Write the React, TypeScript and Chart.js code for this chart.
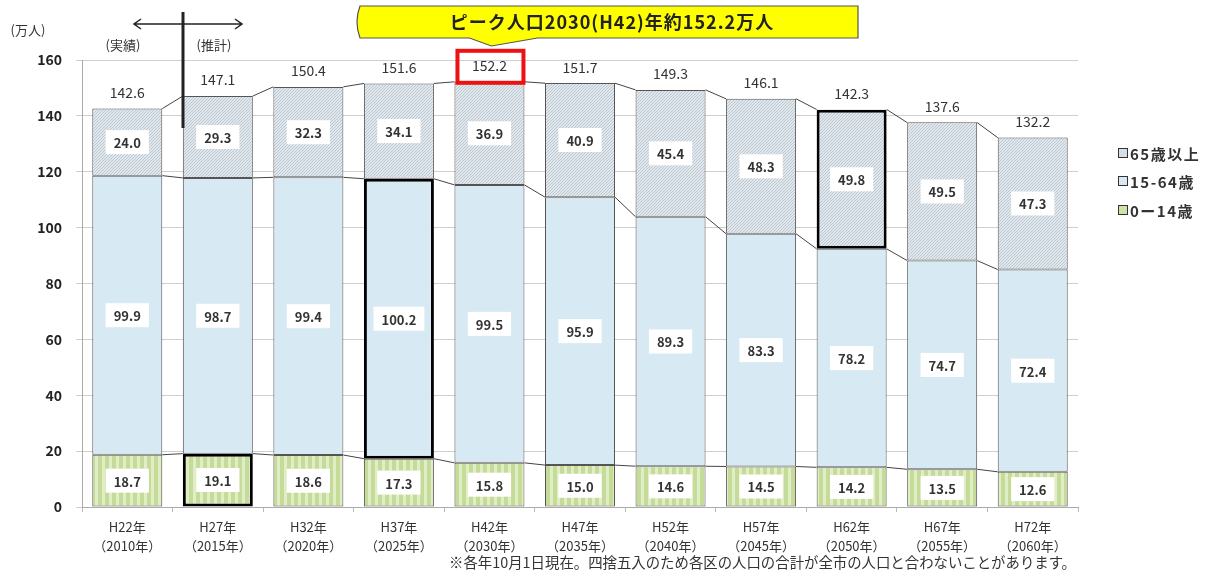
import React, { useEffect, useRef } from "react";
import { Chart, registerables } from "chart.js";

Chart.register(...registerables);

const categories: string[][] = [
  ["H22年", "（2010年）"],
  ["H27年", "（2015年）"],
  ["H32年", "（2020年）"],
  ["H37年", "（2025年）"],
  ["H42年", "（2030年）"],
  ["H47年", "（2035年）"],
  ["H52年", "（2040年）"],
  ["H57年", "（2045年）"],
  ["H62年", "（2050年）"],
  ["H67年", "（2055年）"],
  ["H72年", "（2060年）"],
];
const age0to14 = [18.7, 19.1, 18.6, 17.3, 15.8, 15.0, 14.6, 14.5, 14.2, 13.5, 12.6];
const age15to64 = [99.9, 98.7, 99.4, 100.2, 99.5, 95.9, 89.3, 83.3, 78.2, 74.7, 72.4];
const age65plus = [24.0, 29.3, 32.3, 34.1, 36.9, 40.9, 45.4, 48.3, 49.8, 49.5, 47.3];
const totals = [142.6, 147.1, 150.4, 151.6, 152.2, 151.7, 149.3, 146.1, 142.3, 137.6, 132.2];
const seriesNames = ["0ー14歳", "15-64歳", "65歳以上"];
const highlighted = [1, 3, 8]; // bold-border segment index per series (0-14, 15-64, 65+)
const peakIndex = 4;
const calloutText = "ピーク人口2030(H42)年約152.2万人";
const unitLabel = "(万人)";
const actualLabel = "(実績)";
const forecastLabel = "(推計)";
const footnote = "※各年10月1日現在。四捨五入のため各区の人口の合計が全市の人口と合わないことがあります。";

const FONT = "'Noto Sans CJK JP', 'Noto Sans', sans-serif";

function makeHatch(): CanvasPattern | string {
  const c = document.createElement("canvas");
  c.width = 3;
  c.height = 3;
  const g = c.getContext("2d");
  if (!g) return "#d5dfe6";
  g.fillStyle = "#e0e8ed";
  g.fillRect(0, 0, 3, 3);
  g.fillStyle = "#bcc7cf";
  g.fillRect(2, 0, 1, 1);
  g.fillRect(1, 1, 1, 1);
  g.fillRect(0, 2, 1, 1);
  const p = g.createPattern(c, "repeat");
  return p || "#d5dfe6";
}

function makeStripes(): CanvasPattern | string {
  const c = document.createElement("canvas");
  c.width = 7;
  c.height = 7;
  const g = c.getContext("2d");
  if (!g) return "#cfe2a8";
  g.fillStyle = "#e0edc6";
  g.fillRect(0, 0, 7, 7);
  g.fillStyle = "#c5db98";
  g.fillRect(0, 0, 4, 7);
  const p = g.createPattern(c, "repeat");
  return p || "#cfe2a8";
}

const overlayPlugin = {
  id: "overlay",
  afterDatasetsDraw(chart: any) {
    const ctx: any = chart.ctx;
    const y = chart.scales.y;
    const metas = [0, 1, 2].map((i) => chart.getDatasetMeta(i));
    const n = totals.length;
    ctx.save();
    // connecting lines
    const levels = [
      age0to14,
      age0to14.map((v, i) => v + age15to64[i]),
      totals,
    ];
    ctx.strokeStyle = "#444";
    ctx.lineWidth = 1;
    levels.forEach((lv, li) => {
      const meta = metas[li];
      for (let i = 0; i < n - 1; i++) {
        const a = meta.data[i];
        const b = meta.data[i + 1];
        ctx.beginPath();
        ctx.moveTo(a.x + a.width / 2, y.getPixelForValue(lv[i]));
        ctx.lineTo(b.x - b.width / 2, y.getPixelForValue(lv[i + 1]));
        ctx.stroke();
      }
    });
    // value labels
    ctx.font = `bold 13px ${FONT}`;
    ctx.textAlign = "center";
    ctx.textBaseline = "middle";
    const vals = [age0to14, age15to64, age65plus];
    vals.forEach((arr, si) => {
      const meta = metas[si];
      arr.forEach((v, i) => {
        const el = meta.data[i];
        const cy = (el.y + el.base) / 2;
        const t = v.toFixed(1);
        const w = ctx.measureText(t).width + 16;
        ctx.fillStyle = "#ffffff";
        ctx.fillRect(el.x - w / 2, cy - 12, w, 24);
        ctx.fillStyle = "#333";
        ctx.fillText(t, el.x, cy + 1);
      });
    });
    // totals
    ctx.font = `14px ${FONT}`;
    totals.forEach((v, i) => {
      const el = metas[2].data[i];
      ctx.fillStyle = "#333";
      ctx.fillText(v.toFixed(1), el.x, y.getPixelForValue(v) - 16);
    });
    // red box around peak
    const pk = metas[2].data[peakIndex];
    const py = y.getPixelForValue(totals[peakIndex]) - 16;
    ctx.strokeStyle = "#ee1111";
    ctx.lineWidth = 4;
    ctx.strokeRect(pk.x - 32, py - 15, 66, 32);
    // callout
    ctx.fillStyle = "#ffff00";
    ctx.strokeStyle = "#555";
    ctx.lineWidth = 1.2;
    ctx.beginPath();
    ctx.moveTo(360, 6);
    ctx.lineTo(858, 6);
    ctx.lineTo(858, 38);
    ctx.lineTo(pk.x + 48, 38);
    ctx.lineTo(pk.x + 2, 46);
    ctx.lineTo(pk.x - 20, 38);
    ctx.lineTo(360, 38);
    ctx.quadraticCurveTo(354, 22, 360, 6);
    ctx.closePath();
    ctx.fill();
    ctx.stroke();
    ctx.fillStyle = "#222";
    ctx.font = `bold 18px ${FONT}`;
    ctx.letterSpacing = "1px";
    ctx.fillText(calloutText, 612, 22);
    ctx.letterSpacing = "0px";
    // unit, actual/forecast
    ctx.font = `13px ${FONT}`;
    ctx.fillStyle = "#333";
    ctx.fillText(unitLabel, 28, 30);
    ctx.fillText(actualLabel, 123, 45);
    ctx.fillText(forecastLabel, 214, 45);
    // arrow
    ctx.strokeStyle = "#222";
    ctx.lineWidth = 1.5;
    ctx.beginPath();
    ctx.moveTo(134, 24);
    ctx.lineTo(242, 24);
    ctx.moveTo(141, 19);
    ctx.lineTo(134, 24);
    ctx.lineTo(141, 29);
    ctx.moveTo(235, 19);
    ctx.lineTo(242, 24);
    ctx.lineTo(235, 29);
    ctx.stroke();
    ctx.lineWidth = 3;
    ctx.beginPath();
    ctx.moveTo(183, 12);
    ctx.lineTo(183, 128);
    ctx.stroke();
    // legend
    const legendItems = [
      { name: seriesNames[2], color: "#d5dfe6", y: 153 },
      { name: seriesNames[1], color: "#d7eaf3", y: 181 },
      { name: seriesNames[0], color: "#cfe2a8", y: 210 },
    ];
    ctx.font = `bold 15px ${FONT}`;
    ctx.letterSpacing = "1.5px";
    ctx.textAlign = "left";
    legendItems.forEach((it) => {
      ctx.fillStyle = it.color;
      ctx.fillRect(1118, it.y - 5, 10, 10);
      ctx.strokeStyle = "#333";
      ctx.lineWidth = 1;
      ctx.strokeRect(1118.5, it.y - 4.5, 9, 9);
      ctx.fillStyle = "#333";
      ctx.fillText(it.name, 1130, it.y + 1);
    });
    ctx.letterSpacing = "0px";
    // footnote
    ctx.font = `14.4px ${FONT}`;
    ctx.textAlign = "right";
    ctx.fillStyle = "#333";
    ctx.fillText(footnote, 1076, 563);
    ctx.restore();
  },
};

export default function App() {
  const ref = useRef<HTMLCanvasElement | null>(null);
  useEffect(() => {
    if (!ref.current) return;
    const hatch = makeHatch();
    const stripes = makeStripes();
    const mk = (label: string, data: number[], bg: any, si: number) => ({
      label,
      data,
      backgroundColor: bg,
      borderColor: (c: any) => (c.dataIndex === highlighted[si] ? "#000" : "#555"),
      borderWidth: (c: any) => (c.dataIndex === highlighted[si] ? 3 : 1),
      borderSkipped: false,
      barPercentage: 0.773,
      categoryPercentage: 1,
    });
    const chart = new Chart(ref.current, {
      type: "bar",
      data: {
        labels: categories,
        datasets: [
          mk(seriesNames[0], age0to14, stripes, 0),
          mk(seriesNames[1], age15to64, "#d7eaf3", 1),
          mk(seriesNames[2], age65plus, hatch, 2),
        ] as any,
      },
      options: {
        responsive: false,
        animation: false,
        layout: { padding: { left: 0, top: 60, right: 146, bottom: 0 } },
        plugins: { legend: { display: false }, tooltip: { enabled: false } },
        scales: {
          x: {
            stacked: true,
            grid: { display: true, drawOnChartArea: false, tickLength: 5, color: "#bbb", offset: true },
            border: { color: "#aaa" },
            ticks: { color: "#333", font: { family: FONT, size: 13, lineHeight: 1.45 }, padding: 6 },
            afterFit: (s: any) => {
              s.height = 67;
            },
          },
          y: {
            stacked: true,
            min: 0,
            max: 160,
            ticks: { stepSize: 20, color: "#222", font: { family: FONT, size: 14, weight: "bold" }, padding: 14 },
            grid: { color: "#cfcfcf", tickLength: 6 },
            border: { color: "#aaa" },
            afterFit: (s: any) => {
              s.width = 82;
            },
          },
        },
      },
      plugins: [overlayPlugin],
    });
    return () => chart.destroy();
  }, []);
  return (
    <div style={{ position: "absolute", left: 0, top: 0, width: 1224, height: 574 }}>
      <canvas ref={ref} width={1224} height={574} style={{ display: "block" }} />
    </div>
  );
}
